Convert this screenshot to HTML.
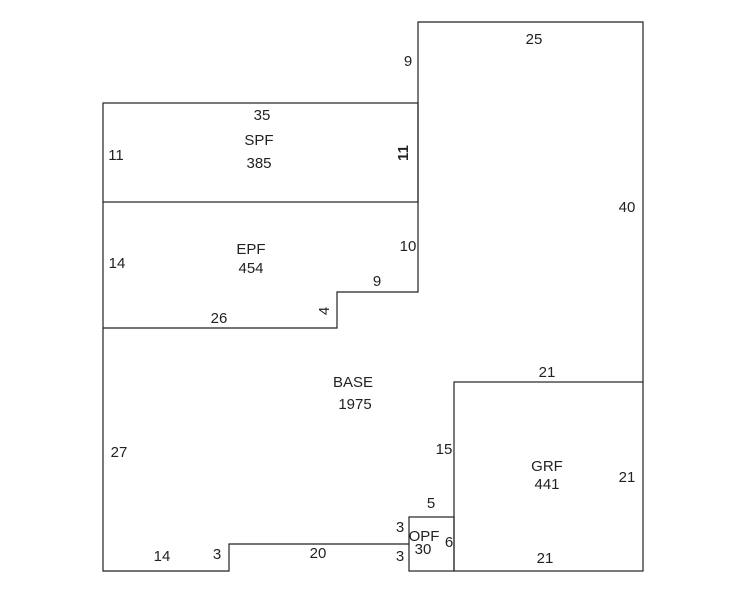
<!DOCTYPE html>
<html><head><style>
html,body{margin:0;padding:0;background:#fff;}
svg{display:block;}
text{font-family:"Liberation Sans",Arial,sans-serif;font-size:15px;fill:#222;text-anchor:middle;}
</style></head><body>
<svg width="746" height="595" viewBox="0 0 746 595" xmlns="http://www.w3.org/2000/svg">
<g fill="none" stroke="#222" stroke-width="1.2">
<rect x="103" y="103" width="315" height="99"/>
<polyline points="103,202 103,328 337,328 337,292 418,292 418,202"/>
<polyline points="418,103 418,22 643,22 643,382"/>
<polyline points="103,328 103,571 229,571 229,544 409,544"/>
<rect x="409" y="517" width="45" height="54"/>
<rect x="454" y="382" width="189" height="189"/>
<line x1="418" y1="202" x2="418" y2="103"/>
</g>
<text x="534" y="44">25</text>
<text x="408" y="66">9</text>
<text x="262" y="120">35</text>
<text x="259" y="145">SPF</text>
<text x="259" y="168">385</text>
<text x="116" y="160">11</text>
<text x="408" y="153" transform="rotate(-90 408 153)" style="font-weight:bold">11</text>
<text x="627" y="212">40</text>
<text x="251" y="254">EPF</text>
<text x="251" y="273">454</text>
<text x="117" y="268">14</text>
<text x="408" y="251">10</text>
<text x="377" y="286">9</text>
<text x="219" y="323">26</text>
<text x="329" y="311" transform="rotate(-90 329 311)">4</text>
<text x="547" y="377">21</text>
<text x="353" y="387">BASE</text>
<text x="355" y="409">1975</text>
<text x="444" y="454">15</text>
<text x="119" y="457">27</text>
<text x="547" y="471">GRF</text>
<text x="547" y="489">441</text>
<text x="627" y="482">21</text>
<text x="431" y="508">5</text>
<text x="400" y="532">3</text>
<text x="424" y="541">OPF</text>
<text x="423" y="554">30</text>
<text x="449" y="547">6</text>
<text x="400" y="561">3</text>
<text x="162" y="561">14</text>
<text x="217" y="559">3</text>
<text x="318" y="558">20</text>
<text x="545" y="563">21</text>
</svg>
</body></html>
